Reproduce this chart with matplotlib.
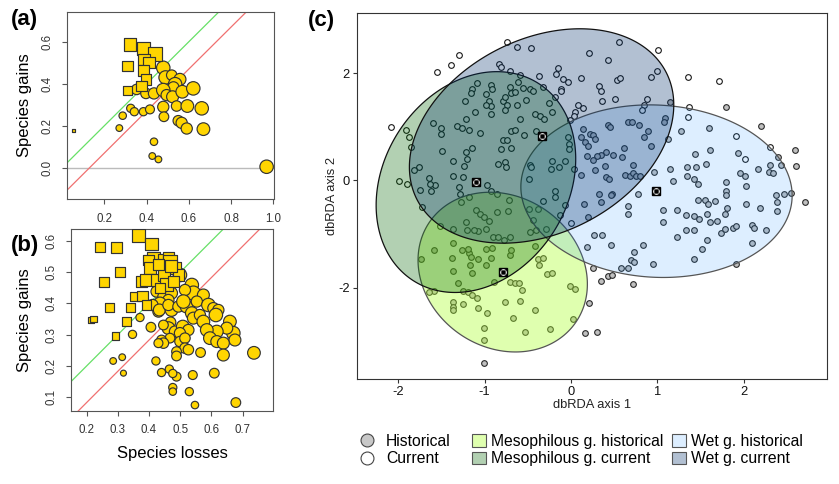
import numpy as np
import matplotlib
matplotlib.use("Agg")
from matplotlib import pyplot as plt
from matplotlib.lines import Line2D
from matplotlib.patches import Patch
from matplotlib.colors import to_rgba

plt.rcParams['font.family'] = ['Liberation Sans', 'DejaVu Sans']
plt.rcParams['axes.unicode_minus'] = False

# ---- panel (a): species losses vs gains, bubble size = weight
a_sq_x = [0.321, 0.385, 0.440, 0.309, 0.388, 0.411, 0.385, 0.397, 0.377, 0.309, 0.053]
a_sq_y = [0.587, 0.568, 0.541, 0.484, 0.516, 0.500, 0.462, 0.421, 0.389, 0.367, 0.176]
a_sq_w = [34, 34, 36, 28, 30, 30, 30, 28, 28, 24, 8]
a_ci_x = [0.479, 0.490, 0.519, 0.558, 0.535, 0.527, 0.353, 0.397, 0.435, 0.479, 0.495, 0.523,
          0.569, 0.621, 0.479, 0.542, 0.593, 0.661, 0.325, 0.342, 0.385, 0.416, 0.287, 0.482,
          0.550, 0.566, 0.590, 0.669, 0.271, 0.435, 0.427, 0.456, 0.968]
a_ci_y = [0.476, 0.430, 0.441, 0.421, 0.398, 0.383, 0.373, 0.354, 0.354, 0.370, 0.346, 0.338,
          0.362, 0.378, 0.290, 0.294, 0.294, 0.283, 0.283, 0.267, 0.267, 0.278, 0.248, 0.243,
          0.224, 0.214, 0.187, 0.184, 0.189, 0.124, 0.056, 0.040, 0.005]
a_ci_w = [36, 36, 28, 32, 36, 30, 28, 28, 30, 36, 30, 32,
          34, 36, 30, 28, 34, 36, 22, 22, 22, 24, 20, 26,
          28, 30, 30, 34, 18, 20, 18, 18, 36]

# ---- panel (b)
b_sq_x = [0.366, 0.243, 0.296, 0.408, 0.256, 0.307, 0.414, 0.398, 0.446, 0.462, 0.467, 0.483,
          0.494, 0.403, 0.376, 0.392, 0.424, 0.448, 0.456, 0.478, 0.435, 0.355, 0.379, 0.392,
          0.273, 0.342, 0.328, 0.214, 0.221, 0.293, 0.430, 0.470]
b_sq_y = [0.617, 0.580, 0.580, 0.590, 0.468, 0.500, 0.545, 0.539, 0.539, 0.545, 0.534, 0.513,
          0.491, 0.513, 0.470, 0.475, 0.475, 0.491, 0.461, 0.470, 0.449, 0.422, 0.424, 0.395,
          0.387, 0.387, 0.342, 0.347, 0.350, 0.296, 0.525, 0.520]
b_sq_w = [34, 28, 30, 34, 26, 26, 34, 28, 30, 30, 36, 30,
          30, 34, 28, 34, 30, 30, 34, 28, 26, 26, 28, 26,
          22, 24, 24, 18, 18, 20, 30, 30]
b_ci_x = [0.499, 0.537, 0.542, 0.515, 0.574, 0.424, 0.446, 0.472, 0.462, 0.435, 0.411, 0.430,
          0.433, 0.472, 0.462, 0.494, 0.520, 0.510, 0.553, 0.537, 0.542, 0.563, 0.574, 0.590,
          0.606, 0.622, 0.614, 0.659, 0.670, 0.649, 0.675, 0.617, 0.585, 0.595, 0.617, 0.638,
          0.638, 0.736, 0.371, 0.406, 0.347, 0.469, 0.462, 0.446, 0.483, 0.508, 0.526, 0.499,
          0.467, 0.440, 0.446, 0.499, 0.515, 0.515, 0.488, 0.526, 0.565, 0.488, 0.430, 0.285,
          0.314, 0.318, 0.422, 0.440, 0.465, 0.488, 0.540, 0.609, 0.476, 0.476, 0.476, 0.529,
          0.547, 0.678]
b_ci_y = [0.491, 0.459, 0.433, 0.443, 0.427, 0.438, 0.422, 0.433, 0.411, 0.400, 0.395, 0.374,
          0.379, 0.379, 0.395, 0.390, 0.390, 0.406, 0.406, 0.369, 0.353, 0.363, 0.342, 0.395,
          0.385, 0.379, 0.363, 0.342, 0.305, 0.321, 0.283, 0.310, 0.315, 0.289, 0.278, 0.273,
          0.235, 0.242, 0.355, 0.324, 0.301, 0.340, 0.321, 0.331, 0.310, 0.326, 0.315, 0.305,
          0.289, 0.283, 0.273, 0.278, 0.289, 0.257, 0.246, 0.252, 0.243, 0.232, 0.273, 0.216,
          0.228, 0.177, 0.216, 0.179, 0.190, 0.166, 0.171, 0.177, 0.176, 0.131, 0.118, 0.118,
          0.075, 0.083]
b_ci_w = [36, 36, 38, 30, 32, 30, 30, 32, 30, 34, 30, 30,
          32, 34, 30, 30, 34, 36, 30, 34, 32, 30, 34, 36,
          30, 30, 36, 34, 36, 32, 32, 34, 34, 34, 32, 32,
          32, 34, 22, 26, 22, 28, 34, 26, 30, 34, 30, 30,
          26, 26, 28, 28, 28, 28, 26, 28, 26, 26, 24, 18,
          18, 16, 22, 22, 22, 24, 24, 26, 22, 22, 20, 22,
          20, 26]

# ---- panel (c): dbRDA site scores
curr_x = [-2.08, -1.55, -1.39, -1.30, -0.74, -0.83, -0.81, -0.70,
          -1.09, -1.14, -1.16, -0.92, -0.91, -0.98, -0.95, -0.93, -0.98, -0.92, -0.79, -0.76,
          -0.74, -0.76, -0.70, -0.69, -1.23, -1.11, -1.22, -1.60, -1.50, -1.50, -1.32, -1.26,
          -1.18, -1.05, -0.69, -0.79, -0.74, -0.81, -0.69, -1.14, -1.21, -1.20, -1.24, -1.49,
          -0.84, -0.76, -0.75, -1.36, -1.76, -1.82, -1.36, -1.25, -1.64, -1.57, -1.63, -1.62,
          -1.75, -1.99, -1.90, -1.30, -1.28, -0.97, -0.93, -0.86, -1.91, -1.87, -1.85,
          -0.62, -0.46, 0.56, 1.01, 0.21, 0.43, -0.15, -0.17, -0.09, -0.04, 0.12, -0.11, -0.12,
          -0.37, -0.32, -0.59, 0.32, 0.35, 0.36, 0.53, 0.57, 0.51, 0.93, 1.00, -0.19, 0.08,
          0.14, 0.05, 0.03, -0.01, 0.88, 0.84, 0.82,
          -0.61, -0.55, -0.47, -0.44, -0.65, -0.52, -0.62, -0.25, -0.22, -0.42, -0.36, -0.31,
          -0.59, -0.65, -0.54, -0.40,
          -0.03, -0.02, -0.02, -0.22, -0.14, -0.07, -0.23, -0.47, -0.46, -0.49, 0.03, -0.19,
          1.35, 1.71, 1.37, 1.35, 1.91, 2.30, 2.01,
          -1.72, -1.27, -1.18, -1.10, -1.05, -1.01, -0.95, -0.86, -0.72, -0.73, -0.90, -0.85,
          -0.98, -1.08, -1.12, -1.20, -1.22, -1.37, -1.52, -0.78, -0.70,
          -0.49, -0.38, -0.32, -0.19, -0.07, -0.13, -0.44, -0.47, -0.41, -0.29, 0.00]
curr_y = [0.99, 2.03, 2.16, 2.34, 2.59, 2.18, 2.11, 2.05,
          1.82, 1.70, 1.63, 1.78, 1.70, 1.62, 1.49, 1.38, 1.40, 1.24, 1.49, 1.55,
          1.40, 1.31, 1.74, 1.64, 1.49, 1.28, 1.15, 1.07, 0.98, 0.86, 1.01, 0.98,
          0.95, 0.88, 0.93, 0.76, 0.76, 0.59, 0.60, 0.60, 0.53, 0.40, 0.27, 0.55,
          0.31, 0.34, 0.25, 0.36, 0.25, 0.19, 0.09, 0.07, 0.05, -0.09, -0.06, -0.20,
          -0.17, -0.01, -0.06, -0.12, -0.25, -0.09, -0.19, -0.25, 0.95, 0.82, 0.62,
          2.49, 2.47, 2.58, 2.43, 2.37, 2.24, 2.10, 1.99, 1.90, 1.83, 1.91, 1.70, 1.66,
          1.95, 1.74, 1.97, 1.77, 1.66, 1.49, 1.87, 1.91, 1.52, 1.93, 2.05, 1.55, 1.41,
          1.35, 1.27, 1.21, 1.12, 1.52, 1.41, 1.32,
          1.83, 1.72, 1.71, 1.66, 1.65, 1.51, 1.40, 1.45, 1.27, 1.24, 1.21, 1.14,
          1.15, 0.95, 0.84, 0.93,
          0.81, 0.68, 0.59, 0.37, 0.25, 0.37, 0.22, 0.29, 0.25, 0.03, 0.22, -0.19,
          1.93, 1.86, 1.37, 1.19, 0.83, 0.62, 0.40,
          -0.49, -0.40, -0.30, -0.55, -0.62, -0.68, -0.76, -0.58, -0.37, -0.57, -1.05, -1.05,
          -0.90, -0.95, -0.92, -0.93, -0.78, -0.90, -0.85, -1.11, -1.05,
          -0.54, -0.54, -0.39, -0.30, -0.46, -0.64, -0.74, -0.96, -0.92, -0.90, -0.80]

hist_x = [0.14, 0.22, 0.26, 0.28, 0.16, 0.20, 0.12, 0.43, 0.45, 0.66, 0.71, 0.79, 0.89, 0.84,
          0.93, 0.61, 0.59, 0.49, 0.41, 0.35, 0.30, 0.25, 0.18, 0.39, 0.28, 0.12, 0.41, 0.44,
          0.63, 0.68, 0.72, 0.75, 0.80, 0.72, 0.96, 0.78, 0.47, 0.32,
          1.15, 1.09, 1.08, 1.12, 1.80, 2.20, 2.59, 2.61, 2.40, 1.27, 1.60, 1.61, 1.43, 1.93,
          1.56, 1.45, 1.34, 1.34, 1.42, 1.47, 1.15, 1.18, 1.80, 1.80, 1.80, 1.96, 2.02, 2.03,
          2.16, 2.30, 2.29, 2.34, 2.43, 2.37, 2.46, 2.55,
          -1.59, -1.37, -1.26, -1.18, -1.16, -1.08, -1.19, -1.38, -0.98, -0.91, -0.93, -0.70,
          -1.74, -1.17, -1.37, -1.14, -0.98, -0.89, -0.70, -1.31, -1.25, -1.19, -1.14, -1.09,
          -1.59, -1.64, -1.36, -1.36, -1.36, -1.25, -1.08, -0.97, -0.76, -0.67, -1.01, -1.01,
          -1.01,
          -0.42, -0.69, -0.37, -0.38, -0.32, -0.28, -0.22, -0.65, -0.60, -0.57, -0.59, -0.42,
          -0.53, -0.24, -0.01, 0.05, 0.02,
          0.25, 0.35, 0.43, 0.48, 0.72, 0.21, 0.16, 0.30,
          0.15, 0.35, 0.46, 0.66, 0.66, 0.20, 1.07, 1.07, 0.27, 0.36, 0.18, 0.46, 0.83, 0.73,
          0.70, 0.73, 0.58, 0.66, 0.95,
          1.23, 1.33, 1.42, 1.48, 1.47, 1.55, 1.59, 1.67, 1.58, 1.61, 1.69, 1.78, 1.81, 2.03,
          2.19, 2.38, 2.39, 2.71, 1.33, 1.42, 1.23, 1.58, 1.74, 1.78, 1.88, 1.91, 2.10, 2.12,
          2.26, 2.10, 1.52, 1.42, 1.91]
hist_y = [0.96, 0.87, 0.84, 0.78, 0.71, 0.65, 0.81, 1.03, 0.99, 1.10, 1.10, 1.03, 0.93, 0.81,
          0.64, 0.61, 0.44, 0.47, 0.53, 0.47, 0.45, 0.39, 0.45, 0.27, 0.19, 0.11, 0.06, 0.03,
          0.11, 0.09, 0.14, 0.08, 0.08, 0.29, 0.15, -0.25, -0.25, -0.25,
          1.47, 1.16, 1.10, 0.78, 1.37, 1.01, 0.57, 0.27, 0.43, 0.92, 0.98, 0.57, 0.50, 0.52,
          0.30, 0.25, 0.25, 0.08, 0.03, -0.06, 0.22, -0.01, -0.03, -0.19, -0.27, 0.14, 0.09, -0.11,
          0.22, 0.29, 0.16, 0.14, 0.28, -0.28, -0.25, -0.24,
          -1.30, -1.16, -1.30, -1.36, -1.42, -1.46, -1.27, -1.44, -1.27, -1.26, -1.44, -1.39,
          -1.47, -1.57, -1.69, -1.72, -1.57, -1.89, -1.90, -1.92, -2.07, -2.08, -2.13, -2.19,
          -2.06, -2.08, -2.26, -2.36, -2.42, -2.30, -2.38, -2.48, -2.26, -2.56, -2.75, -2.98,
          -3.40,
          -1.22, -1.30, -1.58, -1.47, -1.44, -1.74, -1.72, -1.92, -1.92, -2.05, -2.25, -2.42,
          -2.82, -2.78, -1.97, -2.03, -2.59,
          -1.64, -1.88, -1.79, -1.77, -1.94, -2.28, -2.84, -2.82,
          -0.43, -0.40, -0.27, -0.47, -0.63, -0.68, -0.55, -0.78, -1.01, -1.01, -1.25, -1.21,
          -1.21, -1.34, -1.49, -1.52, -1.63, -1.63, -1.55,
          -0.56, -0.64, -0.66, -0.72, -0.37, -0.37, -0.43, -0.39, -0.62, -0.77, -0.76, -0.63,
          -0.51, -0.43, -0.52, -0.40, -0.57, -0.41, -0.93, -0.93, -1.05, -1.11, -0.98, -0.90,
          -0.88, -0.85, -0.83, -0.88, -0.92, -1.16, -1.28, -1.46, -1.56]

groups = ['Mesophilous g. historical', 'Wet g. historical', 'Mesophilous g. current', 'Wet g. current']
cent_x = [-0.79, 0.99, -1.10, -0.34]
cent_y = [-1.71, -0.20, -0.03, 0.83]
ell_sx = [0.98, 1.57, 1.155, 1.53]
ell_sy = [1.49, 1.61, 2.06, 2.00]
ell_rho = [-0.15, -0.05, 0.21, 0.29]
ell_col = ['greenyellow', 'dodgerblue', 'darkgreen', '#00306A']
ell_alpha = [0.38, 0.15, 0.30, 0.30]
ell_edge = ['#555555', '#555555', '#111111', '#111111']

W, H = 839, 484
fig = plt.figure(figsize=(W / 100, H / 100), dpi=100)


def frac(l, t, r, b):
    return [l / W, 1 - b / H, (r - l) / W, (b - t) / H]


def bubbles(ax, xs, ys, ws, mk):
    # weights were read as 3x pixel diameters
    s = [(0.72 * 1.12 * w / 3) ** 2 for w in ws]
    ax.scatter(xs, ys, s=s, marker=mk, facecolor='#FFD500', edgecolor='#333333',
               linewidth=0.85, zorder=3)


def style_ab(ax):
    for sp in ax.spines.values():
        sp.set_color('#555555')
    ax.tick_params(direction='out', length=3.6, width=0.8, colors='#555555',
                   labelcolor='#333333', labelsize=8.3, pad=6)
    for lab in ax.get_yticklabels():
        lab.set_rotation(90)
        lab.set_va('center')


# panel (a)
axa = fig.add_axes(frac(66.7, 11.7, 274, 199.3))
axa.set_xlim(0.022, 1.003)
axa.set_ylim(-0.150, 0.743)
xx = np.array([-1, 2])
axa.axhline(0, color='#bbbbbb', lw=1, zorder=1)
axa.plot(xx, xx, color='#66e066', lw=0.9, zorder=2)
axa.plot(xx, xx - 0.13, color='#f07070', lw=0.9, zorder=2)
bubbles(axa, a_ci_x, a_ci_y, a_ci_w, 'o')
bubbles(axa, a_sq_x, a_sq_y, a_sq_w, 's')
axa.set_xticks([0.2, 0.4, 0.6, 0.8, 1.0])
axa.set_yticks([0.0, 0.2, 0.4, 0.6])
axa.set_ylabel('Species gains', fontsize=12)
style_ab(axa)
axa.yaxis.set_label_coords(-0.167, 0.5)

# panel (b)
axb = fig.add_axes(frac(70.7, 229, 273.3, 411))
axb.set_xlim(0.149, 0.798)
axb.set_ylim(0.056, 0.638)
axb.plot(xx, xx, color='#66e066', lw=0.9, zorder=2)
axb.plot(xx, xx - 0.117, color='#f07070', lw=0.9, zorder=2)
bubbles(axb, b_ci_x, b_ci_y, b_ci_w, 'o')
bubbles(axb, b_sq_x, b_sq_y, b_sq_w, 's')
axb.set_xticks([0.2, 0.3, 0.4, 0.5, 0.6, 0.7])
axb.set_yticks([0.1, 0.2, 0.3, 0.4, 0.5, 0.6])
axb.set_ylabel('Species gains', fontsize=12)
axb.set_xlabel('Species losses', fontsize=12)
style_ab(axb)
axb.yaxis.set_label_coords(-0.191, 0.5)
axb.xaxis.set_label_coords(0.5, -0.19)

# panel (c)
axc = fig.add_axes(frac(356.7, 12.7, 826.7, 379.3))
axc.set_xlim(-2.48, 2.96)
axc.set_ylim(-3.71, 3.13)
axc.plot(hist_x, hist_y, 'o', ms=4.1, mfc='#c0c0c0', mec='#2a2a2a', mew=0.8, zorder=1)
axc.plot(curr_x, curr_y, 'o', ms=4.1, mfc='white', mec='#1a1a1a', mew=0.8, zorder=1)

t = np.linspace(0, 2 * np.pi, 300)
for i in range(4):
    cov = np.array([[ell_sx[i] ** 2, ell_rho[i] * ell_sx[i] * ell_sy[i]],
                    [ell_rho[i] * ell_sx[i] * ell_sy[i], ell_sy[i] ** 2]])
    L = np.linalg.cholesky(cov)
    e = L @ np.vstack([np.cos(t), np.sin(t)])
    axc.fill(e[0] + cent_x[i], e[1] + cent_y[i], facecolor=to_rgba(ell_col[i], ell_alpha[i]),
             edgecolor=ell_edge[i], lw=0.9, zorder=2)

axc.plot(cent_x, cent_y, 's', ms=6.4, mfc='black', mec='black', zorder=4)
axc.plot(cent_x, cent_y, 'o', ms=4.0, mfc='none', mec='white', mew=0.8, zorder=5)
axc.plot(cent_x, cent_y, 'x', ms=2.6, mec='black', mew=0.9, zorder=6)

for sp in axc.spines.values():
    sp.set_color('#333333')
axc.set_xticks([-2, -1, 0, 1, 2])
axc.set_yticks([-2, 0, 2])
axc.tick_params(direction='out', length=3, width=0.8, colors='#333333',
                labelcolor='#111111', labelsize=9.3, pad=2)
axc.set_xlabel('dbRDA axis 1', fontsize=9.3, color='#222222')
axc.set_ylabel('dbRDA axis 2', fontsize=9.3, color='#222222')
axc.xaxis.set_label_coords(0.5, -0.055)
axc.yaxis.set_label_coords(-0.040, 0.5)

# panel letters
fig.text(11 / W, 1 - 9 / H, '(a)', fontsize=16, fontweight='bold', va='top')
fig.text(11 / W, 1 - 235 / H, '(b)', fontsize=16, fontweight='bold', va='top')
fig.text(308 / W, 1 - 10 / H, '(c)', fontsize=16, fontweight='bold', va='top')

# legend
ekw = dict(edgecolor='#555555', linewidth=0.8)
leg_sets = [
    ([Line2D([], [], ls='', marker='o', ms=9.3, mfc='#c8c8c8', mec='#444444', mew=0.8),
      Line2D([], [], ls='', marker='o', ms=9.3, mfc='white', mec='#444444', mew=0.8)],
     ['Historical', 'Current'], 360, 0.75),
    ([Patch(facecolor=to_rgba(ell_col[0], ell_alpha[0]), **ekw),
      Patch(facecolor=to_rgba(ell_col[2], ell_alpha[2]), **ekw)],
     [groups[0], groups[2]], 471.7, 0.36),
    ([Patch(facecolor=to_rgba(ell_col[1], ell_alpha[1]), **ekw),
      Patch(facecolor=to_rgba(ell_col[3], ell_alpha[3]), **ekw)],
     [groups[1], groups[3]], 671.7, 0.36),
]
for hnd, lab, xl, pad in leg_sets:
    fig.legend(hnd, lab, loc='upper left', bbox_to_anchor=(xl / W, 1 - 434 / H),
               frameon=False, fontsize=11.3, handlelength=0.9, handleheight=0.85,
               handletextpad=pad, labelspacing=0.15, borderpad=0, borderaxespad=0)

fig.savefig('out.png', dpi=100)
